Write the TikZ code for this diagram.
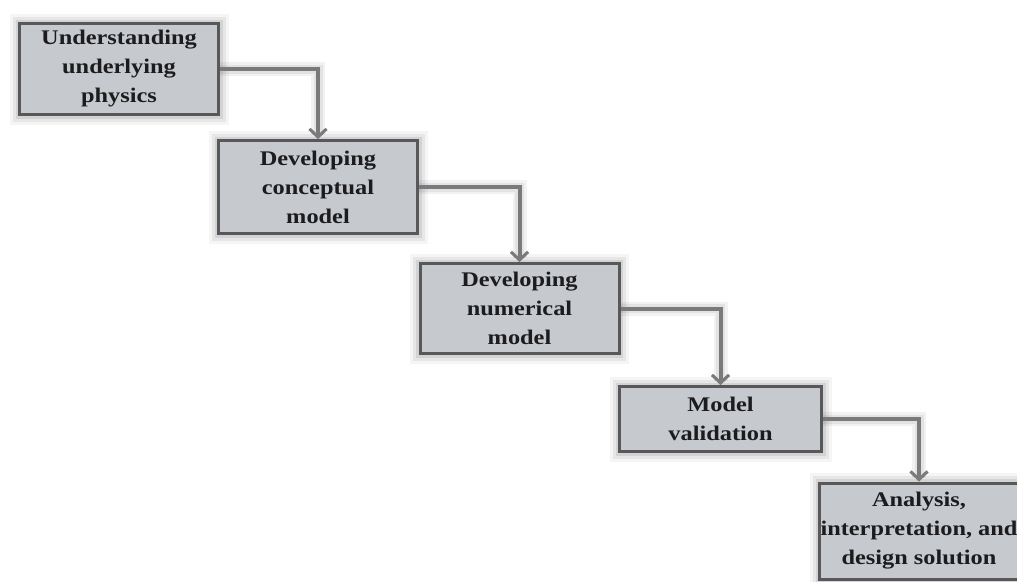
\documentclass[tikz,border=0pt]{standalone}
\usepackage{fontspec}
\setmainfont{Liberation Serif}[FakeStretch=1.17]
\usetikzlibrary{arrows.meta,backgrounds}
\definecolor{boxfill}{RGB}{198,201,205}
\definecolor{boxborder}{RGB}{88,88,90}
\definecolor{linkcol}{RGB}{122,122,124}
\definecolor{textcol}{RGB}{28,28,30}
\begin{document}
\begin{tikzpicture}[x=1pt,y=-1pt,
  stage/.style={draw=boxborder, line width=3pt, fill=boxfill,
    minimum width=199pt, inner sep=0pt, align=center,
    font=\fontsize{20.8}{29}\selectfont\bfseries, text=textcol,
    preaction={draw=black, opacity=0.04, line width=20pt},
    preaction={draw=black, opacity=0.06, line width=14pt},
    preaction={draw=black, opacity=0.08, line width=8pt}},
  link/.style={draw=linkcol, line width=4pt,
    -{Straight Barb[length=8pt,width=17pt,line width=3pt]},
    preaction={draw=black, opacity=0.05, line width=14pt},
    preaction={draw=black, opacity=0.06, line width=9pt}}
]
\useasboundingbox (0,0) rectangle (1017,581);
\clip (0,0) rectangle (1017,581);
\fill[white] (0,0) rectangle (1017,581);

\node[stage, minimum height=91pt] (b1) at (119,69) {Understanding\\underlying\\physics};
\node[stage, minimum height=93pt] (b2) at (318,187) {Developing\\conceptual\\model};
\node[stage, minimum height=90pt] (b3) at (519.5,308.5) {Developing\\numerical\\model};
\node[stage, minimum height=65pt, minimum width=202pt] (b4) at (720.5,419) {Model\\validation};
\node[stage, minimum height=96pt] (b5) at (919,531) {Analysis,\\interpretation, and\\design solution};

\draw[link] (b1.east) -| (b2.north);
\draw[link] (b2.east) -| (b3.north);
\draw[link] (b3.east) -| (b4.north);
\draw[link] (b4.east) -| (b5.north);
\end{tikzpicture}
\end{document}
